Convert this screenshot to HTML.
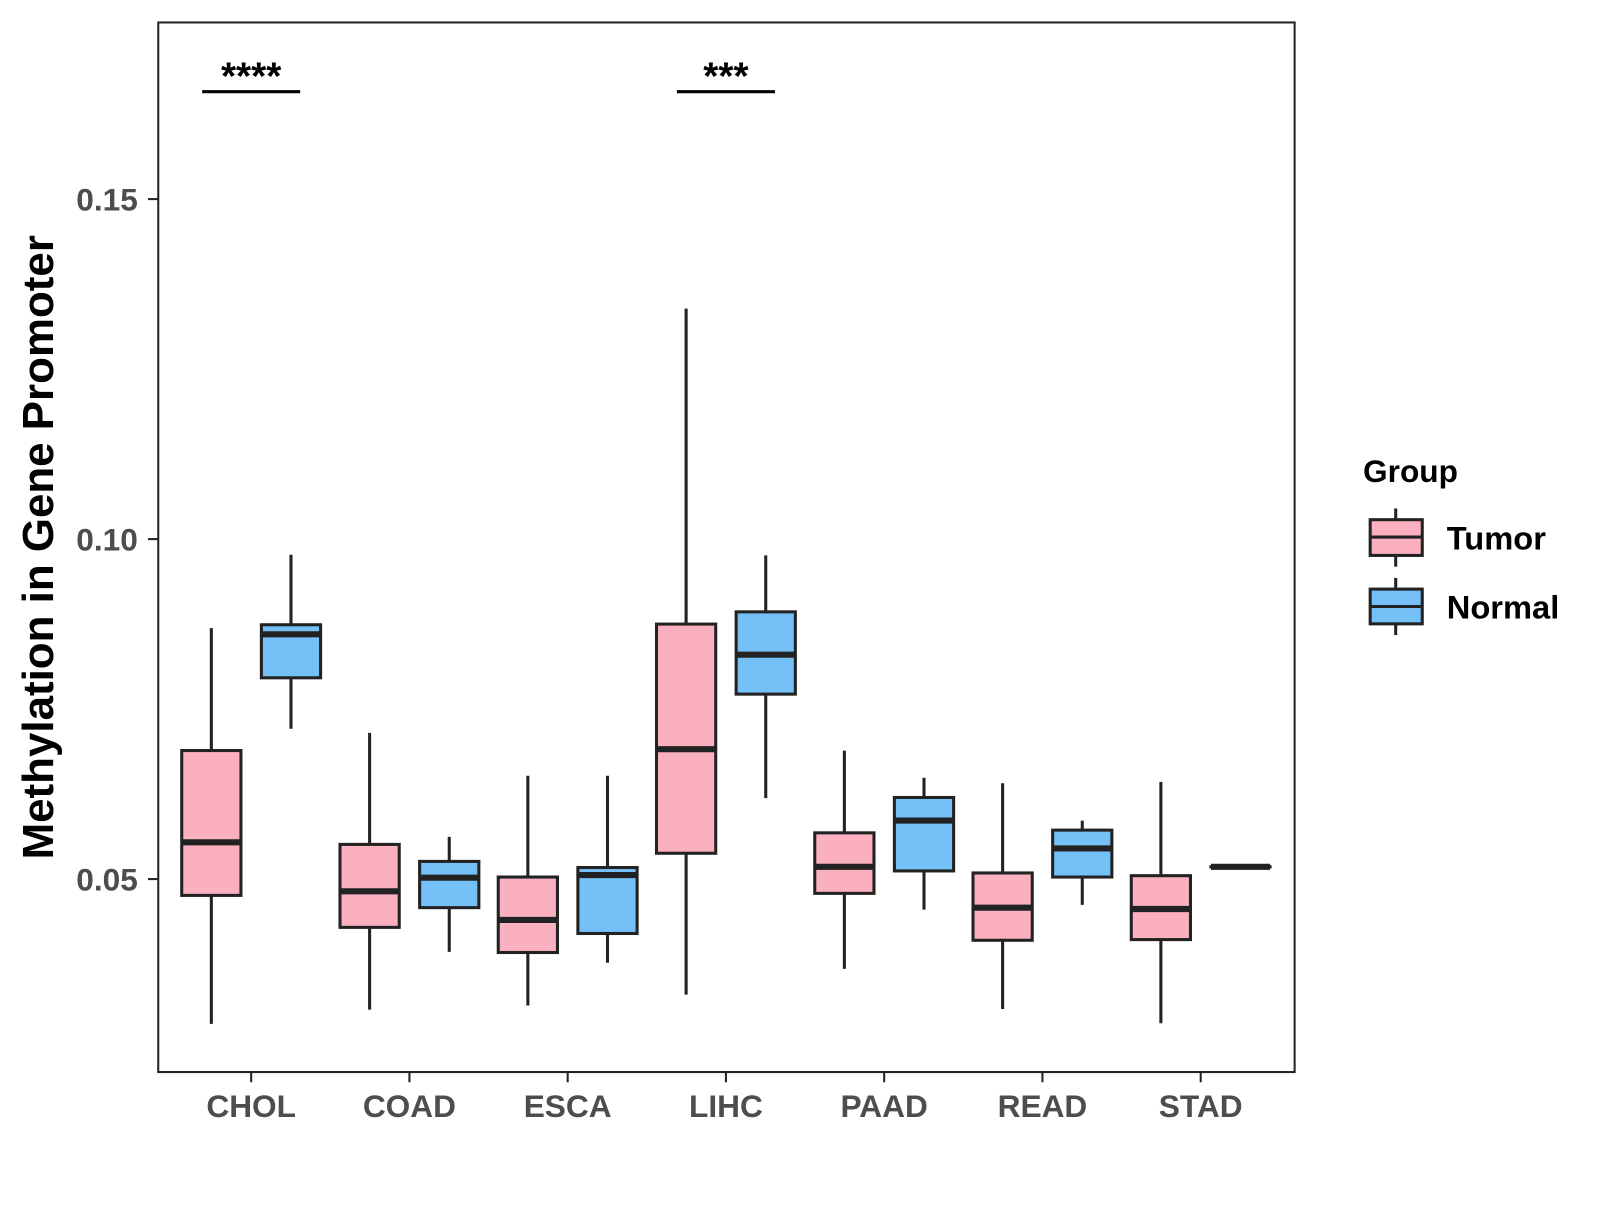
<!DOCTYPE html>
<html><head><meta charset="utf-8"><style>
body{margin:0;background:#fff}
svg text{font-family:"Liberation Sans",Arial,sans-serif;font-weight:bold}
</style></head><body>
<svg id="chart" width="1600" height="1200" viewBox="0 0 1600 1200" xmlns="http://www.w3.org/2000/svg">
<rect x="0" y="0" width="1600" height="1200" fill="#fff"/>
<g transform="scale(1.021)">
<rect x="155" y="22" width="1113" height="1028" fill="none" stroke="#222" stroke-width="2"/>
<g id="marks"></g>
<g id="axes"></g>
<text transform="translate(52,536) rotate(-90)" text-anchor="middle" font-size="43" fill="#000">Methylation in Gene Promoter</text>
<g>
<text x="1335" y="472" font-size="31" fill="#000">Group</text>
<g>
<line x1="1367" y1="498" x2="1367" y2="555" stroke="#222" stroke-width="3"/>
<rect x="1342" y="509" width="51" height="35" fill="#FBB0C0" stroke="#222" stroke-width="3"/>
<line x1="1342" y1="526" x2="1393" y2="526" stroke="#222" stroke-width="3"/>
<text x="1417" y="538" font-size="32" fill="#000">Tumor</text></g>
<g>
<line x1="1367" y1="566" x2="1367" y2="622" stroke="#222" stroke-width="3"/>
<rect x="1342" y="577" width="51" height="34" fill="#75C1F7" stroke="#222" stroke-width="3"/>
<line x1="1342" y1="594" x2="1393" y2="594" stroke="#222" stroke-width="3"/>
<text x="1417" y="606" font-size="32" fill="#000">Normal</text></g>
</g>
</g>
</svg>
<script>
const categories=["CHOL","COAD","ESCA","LIHC","PAAD","READ","STAD"];
// [low, q1, median, q3, high]
const tumorStats=[[0.0287,0.0476,0.0554,0.0689,0.0869],[0.0308,0.0429,0.0482,0.0551,0.0715],[0.0314,0.0392,0.0440,0.0503,0.0652],[0.0330,0.0538,0.0691,0.0875,0.1339],[0.0368,0.0479,0.0518,0.0568,0.0689],[0.0309,0.0410,0.0458,0.0509,0.0641],[0.0288,0.0411,0.0456,0.0505,0.0643]];
const normalStats=[[0.0721,0.0796,0.0860,0.0874,0.0977],[0.0393,0.0458,0.0502,0.0526,0.0562],[0.0377,0.0420,0.0506,0.0517,0.0652],[0.0619,0.0772,0.0830,0.0893,0.0976],[0.0455,0.0512,0.0586,0.0620,0.0649],[0.0462,0.0503,0.0545,0.0572,0.0586],[0.0518,0.0518,0.0518,0.0518,0.0518]];
const yTicks=[0.05,0.10,0.15];
const yTickLabels=["0.05","0.10","0.15"];
const sigCategories=["CHOL","LIHC"];
const sigLabels=["****","***"];
const sigValue=0.1658;

const NS="http://www.w3.org/2000/svg";
function y(v){return 861-(v-0.05)*6660;}
function xc(i){return 246+i*155;}
function mk(tag,attrs,parent){const e=document.createElementNS(NS,tag);for(const k in attrs)e.setAttribute(k,attrs[k]);parent.appendChild(e);return e;}
const marks=document.getElementById('marks'),axes=document.getElementById('axes');
function box(cx,s,fill,name){
  const g=mk('g',{},marks);
  
  
  mk('line',{x1:cx,x2:cx,y1:y(s[4]),y2:y(s[0]),stroke:'#222','stroke-width':3},g);
  const h=Math.max(0.001,y(s[1])-y(s[3]));
  mk('rect',{x:cx-29,y:y(s[3]),width:58,height:h,fill:fill,stroke:'#222','stroke-width':3},g);
  mk('line',{x1:cx-29,x2:cx+29,y1:y(s[2]),y2:y(s[2]),stroke:'#222','stroke-width':6},g);
}
categories.forEach((c,i)=>{
  box(xc(i)-39,tumorStats[i],'#FBB0C0','box-tumor-'+c.toLowerCase());
  box(xc(i)+39,normalStats[i],'#75C1F7','box-normal-'+c.toLowerCase());
  mk('line',{x1:xc(i),x2:xc(i),y1:1050,y2:1060,stroke:'#222','stroke-width':2},axes);
  const t=mk('text',{x:xc(i),y:1094,'text-anchor':'middle','font-size':31,fill:'#4d4d4d'},axes);
  
  
  t.textContent=c;
});
yTicks.forEach((v,i)=>{
  mk('line',{x1:145,x2:155,y1:y(v),y2:y(v),stroke:'#222','stroke-width':2},axes);
  const t=mk('text',{x:135,y:y(v)+11,'text-anchor':'end','font-size':31,fill:'#4d4d4d'},axes);
  
  
  t.textContent=yTickLabels[i];
});
sigCategories.forEach((c,k)=>{
  const i=categories.indexOf(c);
  const g=mk('g',{},marks);
  
  
  mk('line',{x1:xc(i)-48,x2:xc(i)+48,y1:y(sigValue),y2:y(sigValue),stroke:'#000','stroke-width':3},g);
  const t=mk('text',{x:xc(i),y:y(sigValue)-2,'text-anchor':'middle','font-size':38,fill:'#000'},g);
  t.textContent=sigLabels[k];
});
</script>
</body></html>
